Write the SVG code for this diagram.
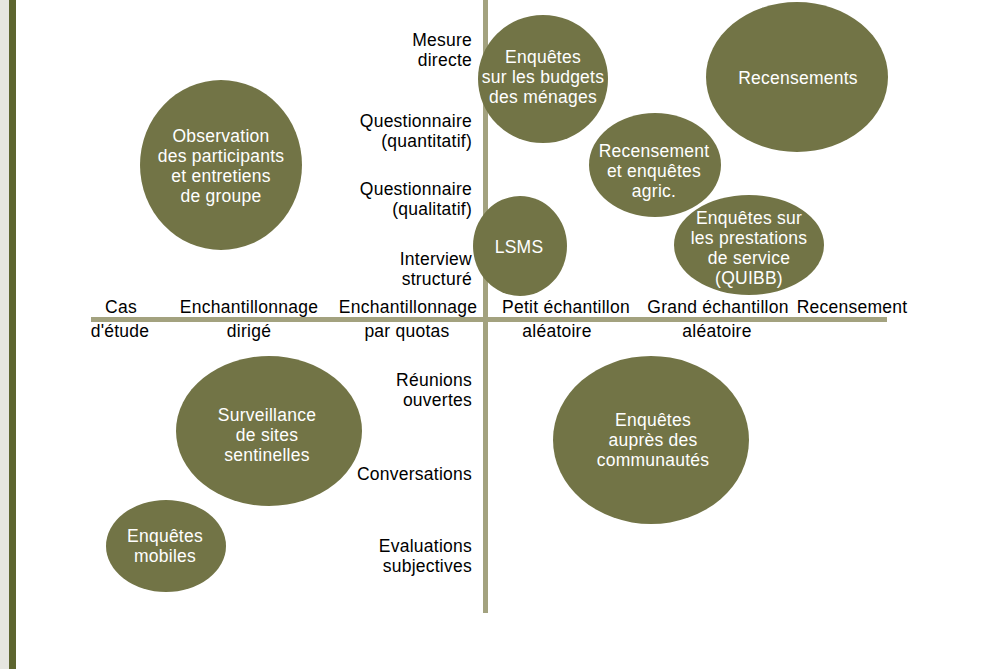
<svg xmlns="http://www.w3.org/2000/svg" width="986" height="669" viewBox="0 0 986 669">
  <style>
    .bub { fill: #727446; }
    .axis { fill: #a3a27f; }
    text { font-family: "Liberation Sans", Arial, sans-serif; font-size: 17.5px; letter-spacing: 0.25px; }
    .in { fill: #ffffff; text-anchor: middle; }
    .lab { fill: #000000; }
    .r { text-anchor: end; }
    .c { text-anchor: middle; }
  </style>
  <rect x="0" y="0" width="986" height="669" fill="#ffffff"/>
  <!-- left edge band -->
  <rect x="0" y="0" width="9" height="669" fill="#e6e6e0"/>
  <rect x="9" y="0" width="7" height="669" fill="#5d652f"/>

  <!-- axes -->
  <g id="axes">
    <rect class="axis" x="483" y="0" width="5" height="613"/>
    <rect class="axis" x="91" y="317" width="796" height="5"/>
  </g>

  <!-- horizontal axis labels: sampling -->
  <g id="x-labels" class="lab">
    <text class="c" x="121" y="313">Cas</text>
    <text class="c" x="120" y="337">d'étude</text>
    <text class="c" x="249" y="313">Enchantillonnage</text>
    <text class="c" x="249" y="337">dirigé</text>
    <text class="c" x="408" y="313">Enchantillonnage</text>
    <text class="c" x="407" y="337">par quotas</text>
    <text class="c" x="566" y="313">Petit échantillon</text>
    <text class="c" x="557" y="337">aléatoire</text>
    <text class="c" x="718" y="313">Grand échantillon</text>
    <text class="c" x="717" y="337">aléatoire</text>
    <text class="c" x="852" y="313">Recensement</text>
  </g>

  <!-- vertical axis labels: data collection -->
  <g id="y-labels" class="lab r">
    <text x="472" y="46">Mesure</text>
    <text x="472" y="66">directe</text>
    <text x="472" y="127">Questionnaire</text>
    <text x="472" y="147">(quantitatif)</text>
    <text x="472" y="195">Questionnaire</text>
    <text x="472" y="215">(qualitatif)</text>
    <text x="472" y="265">Interview</text>
    <text x="472" y="285">structuré</text>
    <text x="472" y="386">Réunions</text>
    <text x="472" y="406">ouvertes</text>
    <text x="472" y="480">Conversations</text>
    <text x="472" y="552">Evaluations</text>
    <text x="472" y="572">subjectives</text>
  </g>

  <g id="observation">
    <ellipse class="bub" cx="221" cy="165" rx="81" ry="85"/>
    <text class="in" x="221" y="142">Observation</text>
    <text class="in" x="221" y="162">des participants</text>
    <text class="in" x="221" y="182">et entretiens</text>
    <text class="in" x="221" y="202">de groupe</text>
  </g>

  <g id="budgets">
    <ellipse class="bub" cx="543" cy="79" rx="65" ry="64"/>
    <text class="in" x="543" y="63">Enquêtes</text>
    <text class="in" x="543" y="83">sur les budgets</text>
    <text class="in" x="543" y="103">des ménages</text>
  </g>

  <g id="recensements">
    <ellipse class="bub" cx="797" cy="77" rx="91" ry="75"/>
    <text class="in" x="798" y="84">Recensements</text>
  </g>

  <g id="agric">
    <ellipse class="bub" cx="655" cy="165" rx="66" ry="52"/>
    <text class="in" x="654" y="157">Recensement</text>
    <text class="in" x="654" y="177">et enquêtes</text>
    <text class="in" x="654" y="197">agric.</text>
  </g>

  <g id="lsms">
    <ellipse class="bub" cx="520" cy="246" rx="47" ry="50"/>
    <text class="in" x="519" y="253">LSMS</text>
  </g>

  <g id="quibb">
    <ellipse class="bub" cx="749" cy="245" rx="75" ry="50"/>
    <text class="in" x="749" y="224">Enquêtes sur</text>
    <text class="in" x="749" y="244">les prestations</text>
    <text class="in" x="749" y="264">de service</text>
    <text class="in" x="749" y="284">(QUIBB)</text>
  </g>

  <g id="sentinelles">
    <ellipse class="bub" cx="269" cy="431" rx="93" ry="75"/>
    <text class="in" x="267" y="421">Surveillance</text>
    <text class="in" x="267" y="441">de sites</text>
    <text class="in" x="267" y="461">sentinelles</text>
  </g>

  <g id="mobiles">
    <ellipse class="bub" cx="166" cy="546" rx="60" ry="46"/>
    <text class="in" x="165" y="542">Enquêtes</text>
    <text class="in" x="165" y="562">mobiles</text>
  </g>

  <g id="communautes">
    <ellipse class="bub" cx="651" cy="440" rx="98" ry="84"/>
    <text class="in" x="653" y="426">Enquêtes</text>
    <text class="in" x="653" y="446">auprès des</text>
    <text class="in" x="653" y="466">communautés</text>
  </g>

  <!-- no connectors in this chart -->
  <g id="connectors"/>
</svg>
